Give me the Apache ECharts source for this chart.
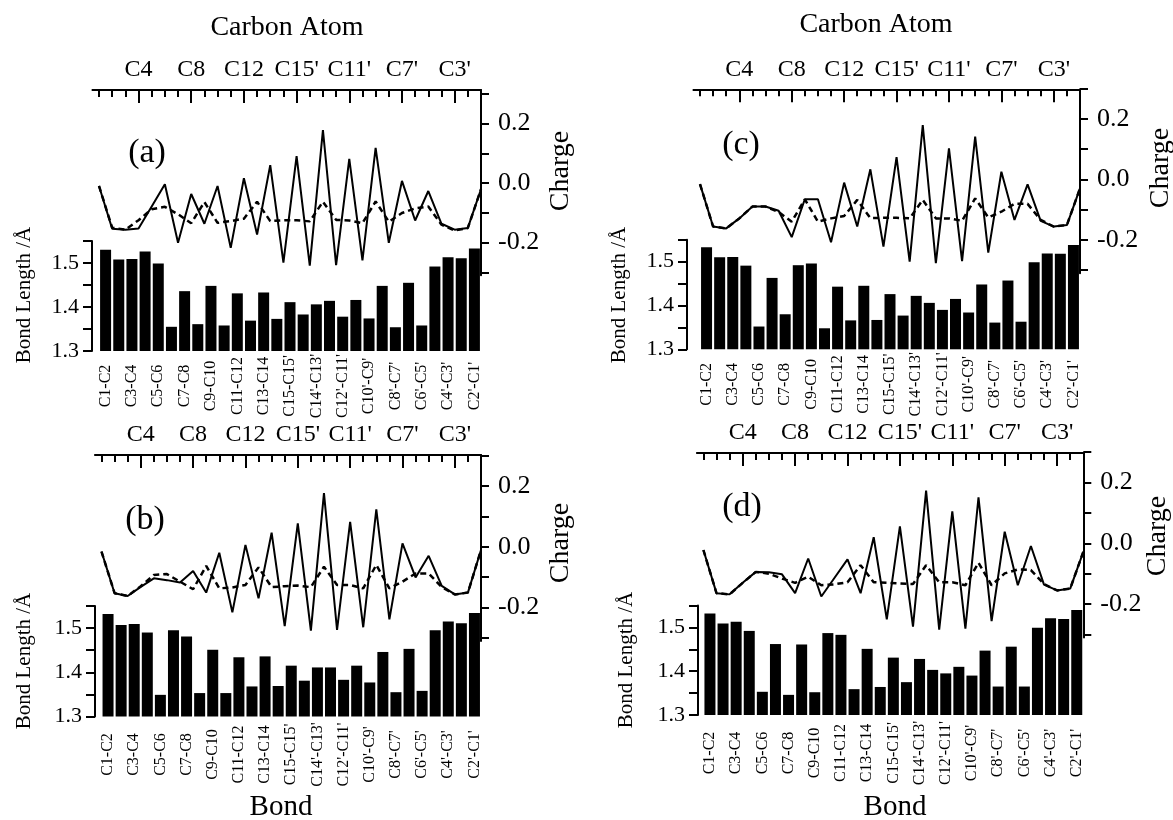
<!DOCTYPE html>
<html><head><meta charset="utf-8">
<script src="https://cdn.jsdelivr.net/npm/echarts@6/dist/echarts.min.js"></script>
<style>html,body{margin:0;padding:0;background:#fff}#c{width:1173px;height:820px}</style>
</head><body><div id="c"></div>
<script>
// ---------- data ----------
const atomNames = ['C1','C2','C3','C4','C5','C6','C7','C8','C9','C10','C11','C12','C13','C14','C15',
  "C15'","C14'","C13'","C12'","C11'","C10'","C9'","C8'","C7'","C6'","C5'","C4'","C3'","C2'","C1'"];
const bondNames = ['C1-C2','C2-C3','C3-C4','C4-C5','C5-C6','C6-C7','C7-C8','C8-C9','C9-C10','C10-C11',
  'C11-C12','C12-C13','C13-C14','C14-C15',"C15-C15'","C15'-C14'","C14'-C13'","C13'-C12'","C12'-C11'",
  "C11'-C10'","C10'-C9'","C9'-C8'","C8'-C7'","C7'-C6'","C6'-C5'","C5'-C4'","C4'-C3'","C3'-C2'","C2'-C1'"];

const chargeSolidA = [-0.010,-0.154,-0.157,-0.153,-0.079,-0.004,-0.201,-0.037,-0.137,-0.010,-0.218,0.016,-0.173,0.060,-0.268,
  0.090,-0.278,0.178,-0.276,0.081,-0.260,0.118,-0.201,0.007,-0.126,-0.027,-0.137,-0.157,-0.151,-0.021];
const chargeDashA = [-0.010,-0.150,-0.157,-0.125,-0.088,-0.080,-0.105,-0.135,-0.064,-0.134,-0.128,-0.120,-0.063,-0.128,-0.125,
  -0.125,-0.129,-0.063,-0.124,-0.126,-0.135,-0.062,-0.130,-0.101,-0.085,-0.079,-0.140,-0.160,-0.151,-0.021];
const bondLenA = [1.530,1.508,1.509,1.526,1.499,1.355,1.436,1.361,1.448,1.358,1.431,1.369,1.433,1.373,1.411,
  1.383,1.406,1.414,1.378,1.416,1.374,1.448,1.354,1.455,1.358,1.492,1.513,1.511,1.533];

const chargeSolidB = [-0.016,-0.153,-0.162,-0.132,-0.104,-0.110,-0.118,-0.080,-0.151,-0.020,-0.216,0.006,-0.170,0.046,-0.261,
  0.077,-0.276,0.176,-0.274,0.082,-0.265,0.123,-0.239,0.011,-0.101,-0.030,-0.129,-0.157,-0.151,-0.011];
const chargeDashB = [-0.016,-0.153,-0.162,-0.130,-0.093,-0.090,-0.115,-0.140,-0.063,-0.137,-0.134,-0.126,-0.068,-0.133,-0.130,
  -0.128,-0.133,-0.066,-0.126,-0.126,-0.137,-0.060,-0.137,-0.115,-0.088,-0.088,-0.133,-0.157,-0.151,-0.011];
const bondLenB = [1.532,1.507,1.509,1.490,1.349,1.495,1.481,1.353,1.451,1.353,1.434,1.368,1.436,1.369,1.415,
  1.381,1.411,1.411,1.383,1.415,1.377,1.446,1.355,1.453,1.358,1.495,1.515,1.511,1.534];

const chargeSolidC = [-0.016,-0.156,-0.162,-0.129,-0.090,-0.090,-0.104,-0.191,-0.066,-0.066,-0.208,-0.011,-0.156,0.033,-0.222,
  0.073,-0.272,0.179,-0.277,0.102,-0.270,0.141,-0.242,0.025,-0.134,-0.017,-0.137,-0.156,-0.151,-0.030];
const chargeDashC = [-0.016,-0.156,-0.162,-0.129,-0.090,-0.090,-0.108,-0.140,-0.066,-0.140,-0.129,-0.121,-0.068,-0.128,-0.127,
  -0.127,-0.129,-0.068,-0.129,-0.129,-0.137,-0.063,-0.126,-0.107,-0.081,-0.081,-0.134,-0.156,-0.151,-0.030];
const bondLenC = [1.533,1.510,1.511,1.491,1.352,1.463,1.380,1.492,1.496,1.348,1.443,1.366,1.445,1.367,1.426,
  1.377,1.422,1.406,1.390,1.415,1.384,1.448,1.361,1.457,1.363,1.499,1.519,1.518,1.538];

const chargeSolidD = [-0.022,-0.164,-0.168,-0.130,-0.094,-0.095,-0.102,-0.164,-0.050,-0.175,-0.114,-0.053,-0.164,0.020,-0.250,
  0.056,-0.274,0.173,-0.284,0.105,-0.281,0.151,-0.256,0.038,-0.138,-0.009,-0.136,-0.155,-0.149,-0.028];
const chargeDashD = [-0.022,-0.164,-0.168,-0.130,-0.094,-0.100,-0.116,-0.130,-0.110,-0.138,-0.135,-0.128,-0.072,-0.128,-0.130,
  -0.132,-0.134,-0.072,-0.128,-0.128,-0.138,-0.064,-0.138,-0.099,-0.086,-0.088,-0.134,-0.155,-0.149,-0.028];
const bondLenD = [1.532,1.509,1.513,1.492,1.353,1.462,1.346,1.461,1.352,1.487,1.483,1.359,1.451,1.364,1.431,
  1.375,1.428,1.403,1.395,1.410,1.390,1.447,1.365,1.456,1.365,1.499,1.521,1.519,1.540];

const chargeRange = [-0.3, 0.3];      // tick range of the charge axis
const chargeStep = 0.1;
const bondRange = [1.3, 1.55];
const bondStep = 0.05;

// ---------- layout ----------
const FONT = "'Liberation Serif', 'DejaVu Serif', serif";
const panels = [
  {name:'(a)', solid:chargeSolidA, dash:chargeDashA, bond:bondLenA, x1:99,    x30:481,    bondX:92,  topY:90,   zeroY:183,   q01:29.75, b130:351,   b01:44.0, lm:35,
   tag:[147,153], charge:[561,171], blen:[24,295]},
  {name:'(b)', solid:chargeSolidB, dash:chargeDashB, bond:bondLenB, x1:101.5, x30:481,    bondX:95,  topY:455,  zeroY:546.7, q01:30.4,  b130:716.5, b01:44.2, lm:38,
   tag:[145,520], charge:[561,543], blen:[24,661]},
  {name:'(c)', solid:chargeSolidC, dash:chargeDashC, bond:bondLenC, x1:700,   x30:1080,   bondX:687, topY:89.3, zeroY:179.3, q01:30.3,  b130:349.3, b01:43.8, lm:35,
   tag:[741,145], charge:[1161,168], blen:[619,295]},
  {name:'(d)', solid:chargeSolidD, dash:chargeDashD, bond:bondLenD, x1:703.4, x30:1083.3, bondX:698, topY:453,  zeroY:543.3, q01:30.4,  b130:715,   b01:43.8, lm:38,
   tag:[742,507], charge:[1158,536], blen:[626,660]}
];

const grids = [], xAxes = [], yAxes = [], series = [], graphics = [];
const black = '#000';
function grid(l, t, w, h) {
  grids.push({left:l, top:t, width:w, height:h, containLabel:false, outerBoundsMode:'none'});
  return grids.length - 1;
}
function hiddenValueAxis(gi) {
  return {type:'value', gridIndex:gi, show:false, min:0, max:1,
    axisLine:{show:false, onZero:false}, axisTick:{show:false}, axisLabel:{show:false}, splitLine:{show:false}};
}
function txt(s, x, y, size, rot) {
  graphics.push({type:'text', x:x, y:y, rotation: rot ? Math.PI/2 : 0, silent:true,
    style:{text:s, font: size + 'px ' + FONT, fill:black, align:'center', verticalAlign:'middle',
           textAlign:'center', textVerticalAlign:'middle'}});
}

panels.forEach(p => {
  const sp = (p.x30 - p.x1) / 29;
  const qLeft = p.x1 - 0.5 * sp;
  // charge grid (lines)
  const qBottom = p.zeroY + 3.1 * p.q01;
  const gq = grid(qLeft, p.topY, p.x30 - qLeft, qBottom - p.topY);
  xAxes.push({type:'value', gridIndex:gq, position:'top', min:0.5, max:30,
    axisLine:{show:true, onZero:false, lineStyle:{color:black, width:2}}, axisTick:{show:false}, axisLabel:{show:false}, splitLine:{show:false}});
  const qx = xAxes.length - 1;
  yAxes.push({type:'value', gridIndex:gq, position:'right', min:-0.31, max:(p.zeroY - p.topY) / p.q01 / 10,
    axisLine:{show:true, onZero:false, lineStyle:{color:black, width:2}}, axisTick:{show:false}, axisLabel:{show:false}, splitLine:{show:false}});
  const qy = yAxes.length - 1;
  series.push({type:'line', xAxisIndex:qx, yAxisIndex:qy, symbol:'none', silent:true,
    lineStyle:{color:black, width:2.5, type:[6,4]}, data:p.dash.map((v,i)=>[i+1, v]), z:3});
  series.push({type:'line', xAxisIndex:qx, yAxisIndex:qy, symbol:'none', silent:true,
    lineStyle:{color:black, width:2}, data:p.solid.map((v,i)=>[i+1, v]), z:4});

  // atom ticks + labels (top)
  const gt = grid(p.x1, p.topY, p.x30 - p.x1, 40);
  xAxes.push({type:'category', gridIndex:gt, position:'top', data:atomNames, boundaryGap:false,
    axisLine:{show:false, onZero:false}, axisTick:{show:true, inside:true, length:7, interval:0, lineStyle:{color:black, width:2}},
    axisLabel:{show:false}, splitLine:{show:false}});
  xAxes.push({type:'category', gridIndex:gt, position:'top', data:atomNames, boundaryGap:false,
    axisLine:{show:false, onZero:false}, axisTick:{show:true, inside:true, length:13, interval:(i)=> i % 4 === 3, lineStyle:{color:black, width:2}},
    axisLabel:{show:true, interval:(i)=> i % 4 === 3, color:black, fontFamily:FONT, fontSize:24, margin:8},
    splitLine:{show:false}});
  yAxes.push(hiddenValueAxis(gt));

  // charge ticks + labels (right)
  const gc = grid(p.x1, p.zeroY - 3 * p.q01, p.x30 - p.x1, 6 * p.q01);
  xAxes.push(hiddenValueAxis(gc));
  yAxes.push({type:'value', gridIndex:gc, position:'right', min:chargeRange[0], max:chargeRange[1], interval:chargeStep,
    axisLine:{show:false, onZero:false}, axisTick:{show:true, length:8, lineStyle:{color:black, width:2}},
    axisLabel:{show:true, margin:17, color:black, fontFamily:FONT, fontSize:26,
      formatter:(v)=>{ const r = Math.round(v * 10); return r % 2 === 0 ? (r / 10 + 0).toFixed(1) : ''; }},
    splitLine:{show:false}});

  // bond length bars
  const bTop = p.b130 - 2.5 * p.b01;
  const gb = grid(p.x1, bTop, p.x30 - p.x1, 2.5 * p.b01);
  xAxes.push({type:'category', gridIndex:gb, position:'bottom', data:bondNames, boundaryGap:true,
    axisLine:{show:false, onZero:false}, axisTick:{show:false},
    axisLabel:{show:true, interval:1, rotate:90, align:'center', verticalAlign:'middle', margin:p.lm,
      color:black, fontFamily:FONT, fontSize:16}, splitLine:{show:false}});
  const bx = xAxes.length - 1;
  yAxes.push({type:'value', gridIndex:gb, position:'left', offset:p.x1 - p.bondX,
    min:bondRange[0], max:bondRange[1], interval:bondStep,
    axisLine:{show:true, onZero:false, lineStyle:{color:black, width:2}}, axisTick:{show:true, length:9, lineStyle:{color:black, width:2}},
    axisLabel:{show:true, margin:13, color:black, fontFamily:FONT, fontSize:22,
      formatter:(v)=>{ const r = Math.round(v * 100); return r % 10 === 0 ? (r / 100).toFixed(1) : ''; }},
    splitLine:{show:false}});
  const by = yAxes.length - 1;
  series.push({type:'bar', xAxisIndex:bx, yAxisIndex:by, data:p.bond, barWidth:11, silent:true,
    itemStyle:{color:black}});

  // texts
  txt(p.name, p.tag[0], p.tag[1], 34, false);
  txt('Charge', p.charge[0], p.charge[1], 28, true);
  txt('Bond Length /\u00C5', p.blen[0], p.blen[1], 21, true);
});

txt('Carbon Atom', 287, 28, 28, false);
txt('Carbon Atom', 876, 25, 28, false);
txt('Bond', 281, 807, 29, false);
txt('Bond', 895, 807, 29, false);

const chart = echarts.init(document.getElementById('c'), null, {renderer:'canvas'});
chart.setOption({
  animation:false,
  backgroundColor:'#fff',
  grid:grids, xAxis:xAxes, yAxis:yAxes, series:series,
  graphic:{elements:graphics}
});
</script></body></html>
